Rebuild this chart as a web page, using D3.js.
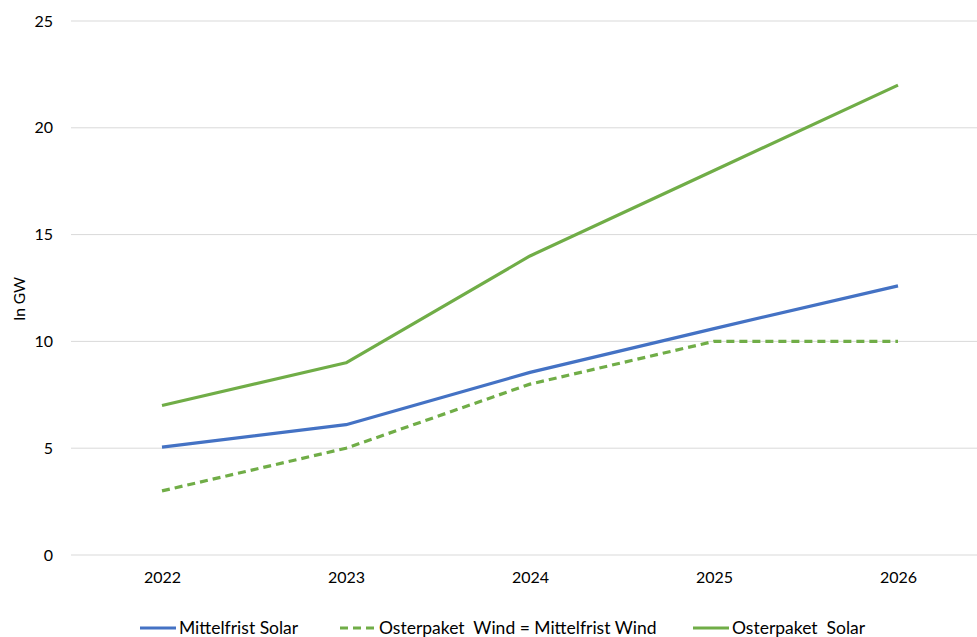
<!DOCTYPE html>
<html>
<head>
<meta charset="utf-8">
<script src="https://cdn.jsdelivr.net/npm/d3@7"></script>
<style>
  html, body { margin: 0; padding: 0; background: #fff; }
  svg { display: block; font-family: Lato, "Open Sans", sans-serif; }
</style>
</head>
<body>
<svg id="chart" width="977" height="637"></svg>
<script>
// Years on the x axis
const years = ["2022", "2023", "2024", "2025", "2026"];
// Capacity additions in GW
const mittelfristSolar = [5.05, 6.1, 8.55, 10.6, 12.6];
const osterpaketWind = [3, 5, 8, 10, 10];
const osterpaketSolar = [7, 9, 14, 18, 22];
const yTicks = [0, 5, 10, 15, 20, 25];

const series = [
  { name: "Mittelfrist Solar", values: mittelfristSolar, color: "#4472C4", dash: null },
  { name: "Osterpaket  Wind = Mittelfrist Wind", values: osterpaketWind, color: "#70AD47", dash: "8,5" },
  { name: "Osterpaket  Solar", values: osterpaketSolar, color: "#70AD47", dash: null }
];

const svg = d3.select("#chart");
// The category band runs slightly past the right edge of the canvas
const plotLeft = 70, plotRight = 990, gridRight = 977, plotTop = 21, plotBottom = 555;

const x = d3.scalePoint().domain(years).range([plotLeft, plotRight]).padding(0.5);
const y = d3.scaleLinear().domain([0, 25]).range([plotBottom, plotTop]);

// Horizontal gridlines
svg.append("g")
  .selectAll("line")
  .data(yTicks)
  .join("line")
  .attr("x1", plotLeft + 1).attr("x2", gridRight)
  .attr("y1", d => y(d)).attr("y2", d => y(d))
  .attr("stroke", "#d9d9d9").attr("stroke-width", 1);

// Y axis labels
const yAxis = svg.append("g")
  .attr("transform", `translate(${plotLeft + 1},0)`)
  .call(d3.axisLeft(y).tickValues(yTicks).tickSize(0).tickPadding(18));
yAxis.select(".domain").remove();
yAxis.selectAll("text").attr("font-size", 16).attr("fill", "#000").attr("font-family", "Lato, sans-serif");

// X axis labels
const xAxis = svg.append("g")
  .attr("transform", `translate(0,${plotBottom})`)
  .call(d3.axisBottom(x).tickSize(0).tickPadding(17));
xAxis.select(".domain").remove();
xAxis.selectAll("text").attr("font-size", 16).attr("fill", "#000").attr("font-family", "Lato, sans-serif");

// Y axis title
svg.append("text")
  .attr("transform", "translate(25,299) rotate(-90)")
  .attr("text-anchor", "middle")
  .attr("font-size", 15.5)
  .attr("fill", "#000")
  .text("In GW");

// Lines
const line = d3.line()
  .x((d, i) => x(years[i]))
  .y(d => y(d));

svg.append("g")
  .selectAll("path")
  .data(series)
  .join("path")
  .attr("d", d => line(d.values))
  .attr("fill", "none")
  .attr("stroke", d => d.color)
  .attr("stroke-width", 3.2)
  .attr("stroke-linejoin", "round")
  .attr("stroke-dasharray", d => d.dash);

// Legend
const legendX = [140, 340, 693];
const legend = svg.append("g")
  .selectAll("g")
  .data(series)
  .join("g")
  .attr("transform", (d, i) => `translate(${legendX[i]},628)`);
legend.append("line")
  .attr("x1", 0).attr("x2", 36)
  .attr("y1", 0).attr("y2", 0)
  .attr("stroke", d => d.color)
  .attr("stroke-width", 3.2)
  .attr("stroke-dasharray", d => d.dash);
legend.append("text")
  .attr("x", 39).attr("y", 0)
  .attr("dy", "0.35em")
  .attr("font-size", 17.5)
  .attr("fill", "#000")
  .style("white-space", "pre")
  .text(d => d.name);
</script>
</body>
</html>
